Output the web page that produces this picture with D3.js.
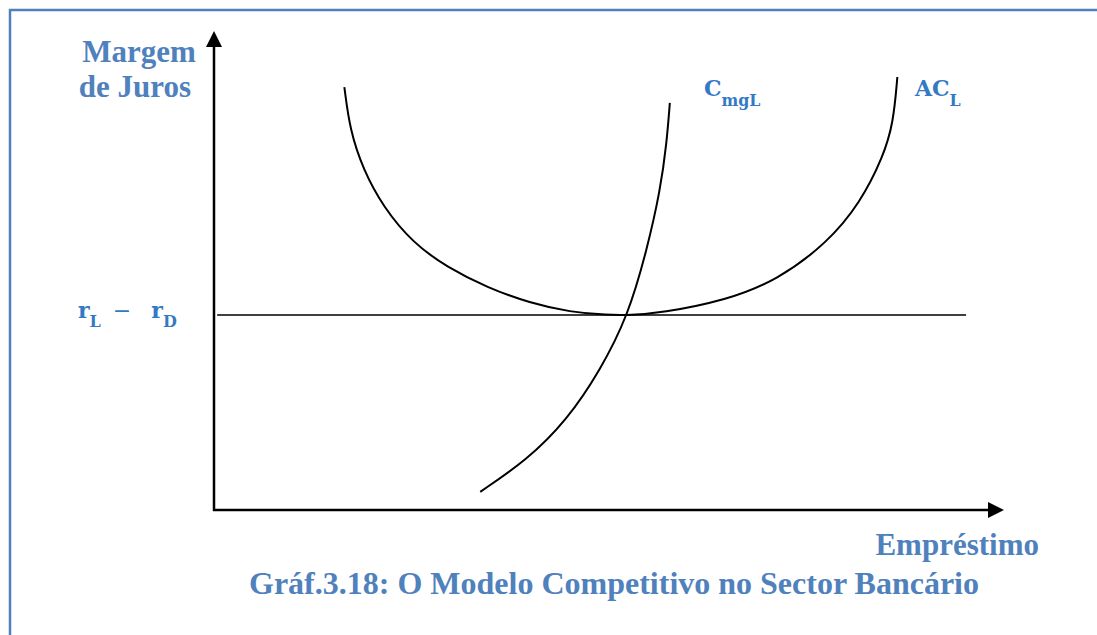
<!DOCTYPE html>
<html>
<head>
<meta charset="utf-8">
<script src="https://cdn.jsdelivr.net/npm/d3@7/dist/d3.min.js"></script>
<style>
  html, body { margin: 0; padding: 0; background: #fff; }
  svg { display: block; }
  .head { font-family: "Liberation Serif", "Times New Roman", serif; font-weight: bold; fill: #4f81bd; font-size: 31px; }
  .math { font-family: "DejaVu Serif", serif; font-weight: bold; fill: #3479c4; }
</style>
</head>
<body>
<div id="container"></div>
<script>
// Courbes du modèle (unités arbitraires 0-100)
const acX = [16.5, 17.2, 18.9, 21.4, 25.2, 29.5, 34.6, 40.0, 45.1, 49.8, 52.7, 56.5, 64.9, 71.3, 77.6, 81.8, 84.7, 86.0, 86.5];
const acY = [88.3, 79.3, 71.0, 63.3, 55.7, 50.7, 46.4, 43.2, 41.3, 40.7, 40.7, 41.1, 43.8, 48.0, 55.7, 64.1, 73.7, 80.8, 90.4];
const cmgX = [33.7, 39.6, 44.7, 48.9, 52.4, 54.8, 56.5, 57.3, 57.7];
const cmgY = [3.8, 10.4, 18.8, 29.2, 40.5, 54.3, 66.8, 76.6, 85.0];
const margemX = [0.4, 95.2];
const margemY = 40.7;

const W = 1097, H = 635;

const svg = d3.select("#container").append("svg")
    .attr("width", W).attr("height", H);

// cadre bleu
svg.append("rect")
    .attr("x", 10).attr("y", 10)
    .attr("width", W + 20).attr("height", H + 20)
    .attr("fill", "none").attr("stroke", "#4f81bd").attr("stroke-width", 2.5);

// échelles
const x = d3.scaleLinear().domain([0, 100]).range([214, 1004]);
const y = d3.scaleLinear().domain([0, 100]).range([510, 31]);

// axes avec flèches
svg.append("line")
    .attr("x1", x(0)).attr("y1", y(0) + 1)
    .attr("x2", x(0)).attr("y2", y(97))
    .attr("stroke", "#000").attr("stroke-width", 2.5);
svg.append("path")
    .attr("d", `M${x(0)},${y(100)} L${x(0) - 8},${y(100) + 16} L${x(0) + 8},${y(100) + 16} Z`)
    .attr("fill", "#000");

svg.append("line")
    .attr("x1", x(0) - 1).attr("y1", y(0))
    .attr("x2", x(98)).attr("y2", y(0))
    .attr("stroke", "#000").attr("stroke-width", 2.5);
svg.append("path")
    .attr("d", `M${x(100)},${y(0)} L${x(100) - 16},${y(0) - 8} L${x(100) - 16},${y(0) + 8} Z`)
    .attr("fill", "#000");

// ligne horizontale rL - rD
svg.append("line")
    .attr("x1", x(margemX[0])).attr("x2", x(margemX[1]))
    .attr("y1", y(margemY)).attr("y2", y(margemY))
    .attr("stroke", "#000").attr("stroke-width", 1.6);

const line = d3.line()
    .x(d => x(d[0])).y(d => y(d[1]))
    .curve(d3.curveBasis);

svg.append("path")
    .datum(acX.map((v, i) => [v, acY[i]]))
    .attr("d", line)
    .attr("fill", "none").attr("stroke", "#000").attr("stroke-width", 2);

svg.append("path")
    .datum(cmgX.map((v, i) => [v, cmgY[i]]))
    .attr("d", line)
    .attr("fill", "none").attr("stroke", "#000").attr("stroke-width", 2);

// titres
svg.append("text").attr("class", "head")
    .attr("x", 139).attr("y", 62).attr("text-anchor", "middle").text("Margem");
svg.append("text").attr("class", "head")
    .attr("x", 135).attr("y", 97).attr("text-anchor", "middle").text("de Juros");
svg.append("text").attr("class", "head")
    .attr("x", 1039).attr("y", 555).attr("text-anchor", "end").text("Empréstimo");
svg.append("text").attr("class", "head")
    .attr("x", 614).attr("y", 594).attr("text-anchor", "middle").style("font-size", "32px")
    .text("Gráf.3.18: O Modelo Competitivo no Sector Bancário");

// étiquettes mathématiques
function mathLabel(px, py, main, sub, size) {
    const t = svg.append("text").attr("class", "math")
        .attr("x", px).attr("y", py).style("font-size", size + "px");
    t.append("tspan").text(main);
    t.append("tspan").attr("dy", size * 0.45).style("font-size", (size * 0.72) + "px").text(sub);
    return t;
}
mathLabel(704, 96, "C", "mgL", 22);
mathLabel(915, 96, "AC", "L", 22);

const r = svg.append("text").attr("class", "math")
    .attr("x", 78).attr("y", 318).style("font-size", "22px");
r.append("tspan").text("r");
r.append("tspan").attr("dy", 9).style("font-size", "16px").text("L");
r.append("tspan").attr("dy", -9).attr("dx", 12).style("font-weight", "normal").text("−");
r.append("tspan").attr("dx", 20).text("r");
r.append("tspan").attr("dy", 9).style("font-size", "16px").text("D");
</script>
</body>
</html>
